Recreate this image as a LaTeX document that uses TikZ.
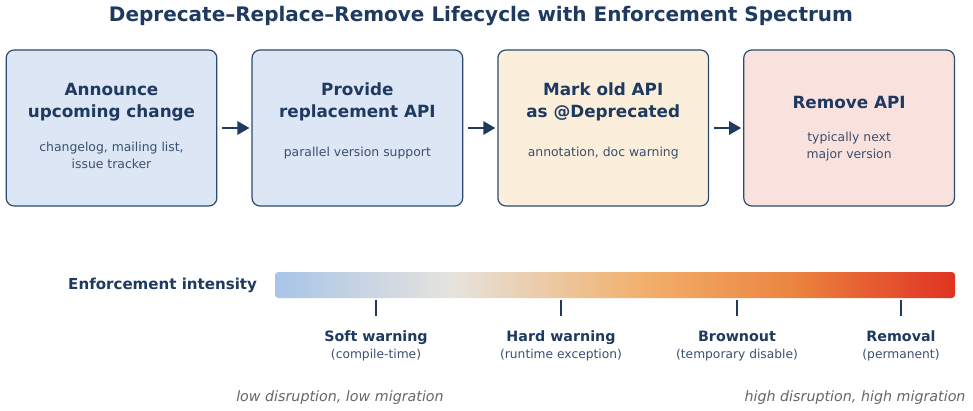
\documentclass[tikz,border=0pt]{standalone}
\usepackage{fontspec}
\setmainfont{DejaVu Sans}
\usepackage{tikz}
\usetikzlibrary{positioning,arrows.meta,calc}
\definecolor{navy}{HTML}{1F3A60}
\definecolor{boxline}{HTML}{2C4A6E}
\definecolor{subtext}{HTML}{3B4F6E}
\definecolor{fblue}{HTML}{DCE6F4}
\definecolor{fbeige}{HTML}{FBEEDA}
\definecolor{fpink}{HTML}{F9E2DE}
\definecolor{gblue}{HTML}{A8C5E8}
\definecolor{ggray}{HTML}{E6E3DE}
\definecolor{gorange}{HTML}{F2B06C}
\definecolor{gdeep}{HTML}{EB8540}
\definecolor{gred}{HTML}{E03222}
\definecolor{note}{HTML}{666666}
\pgfdeclarehorizontalshading{enforce}{100bp}{color(0bp)=(gblue); color(25bp)=(gblue); color(38bp)=(ggray); color(52bp)=(gorange); color(63bp)=(gdeep); color(75bp)=(gred); color(100bp)=(gred)}
\tikzstyle{stagebox}=[rectangle, draw=boxline, line width=0.9pt, rounded corners=6pt, minimum width=158pt, minimum height=117pt, inner sep=0pt]
\tikzstyle{stagetitle}=[align=center, text=navy, font=\bfseries\fontsize{12.6}{16.5}\selectfont]
\tikzstyle{stagenote}=[align=center, text=subtext, font=\fontsize{9.3}{12.75}\selectfont]
\tikzstyle{flowarrow}=[-{Triangle[length=9pt,width=10pt]}, navy, line width=1.5pt, shorten <=3.75pt, shorten >=1.5pt]
\tikzstyle{levelname}=[text=navy, text height=8pt, text depth=2.5pt, font=\bfseries\fontsize{10.7}{12}\selectfont]
\tikzstyle{levelnote}=[text=subtext, font=\fontsize{9.2}{11}\selectfont]
\tikzstyle{tickmark}=[navy, line width=1.5pt]
\tikzstyle{endnote}=[text=note, font=\itshape\fontsize{10.7}{12}\selectfont]

\begin{document}
\begin{tikzpicture}[x=0.75pt,y=-0.75pt]
			\useasboundingbox[fill=white] (0,0) rectangle (973,410);
			\node[text=navy, font=\bfseries\fontsize{15}{18}\selectfont] (title) at (481,16) {Deprecate--Replace--Remove Lifecycle with Enforcement Spectrum};

			% lifecycle stages
			\node[stagebox, fill=fblue] (announce) at (111.5,128) {};
			\node[stagebox, fill=fblue, right=25.5pt of announce] (provide) {};
			\node[stagebox, fill=fbeige, right=25.5pt of provide] (mark) {};
			\node[stagebox, fill=fpink, right=25.5pt of mark] (remove) {};

			\node[stagetitle] (announceT) at ($(announce.center)+(0,-26)$) {Announce\\upcoming change};
			\node[stagenote] (announceN) at ($(announce.center)+(0,27.5)$) {changelog, mailing list,\\issue tracker};
			\node[stagetitle] (provideT) at ($(provide.center)+(0,-26)$) {Provide\\replacement API};
			\node[stagenote] (provideN) at ($(provide.center)+(0,25)$) {parallel version support};
			\node[stagetitle] (markT) at ($(mark.center)+(0,-26)$) {Mark old API\\as @Deprecated};
			\node[stagenote] (markN) at ($(mark.center)+(0,25)$) {annotation, doc warning};
			\node[stagetitle] (removeT) at ($(remove.center)+(0,-26)$) {Remove API};
			\node[stagenote] (removeN) at ($(remove.center)+(0,18.5)$) {typically next\\major version};

			\draw[flowarrow] (announce) -- (provide);
			\draw[flowarrow] (provide) -- (mark);
			\draw[flowarrow] (mark) -- (remove);

			% enforcement spectrum
			\node[shading=enforce, rounded corners=2.5pt, minimum width=510pt, minimum height=19.5pt, inner sep=0pt] (spectrum) at (615,285) {};
			\node[left=9.75pt of spectrum, text=navy, font=\bfseries\fontsize{11.3}{13}\selectfont] (intensity) {Enforcement intensity};

			\node[levelname] (soft) at (376,338) {Soft warning};
			\node[levelnote] (softN) at (376,355) {(compile-time)};
			\node[levelname] (hard) at (561,338) {Hard warning};
			\node[levelnote] (hardN) at (561,355) {(runtime exception)};
			\node[levelname] (brown) at (737,338) {Brownout};
			\node[levelnote] (brownN) at (737,355) {(temporary disable)};
			\node[levelname] (removal) at (901,338) {Removal};
			\node[levelnote] (removalN) at (901,355) {(permanent)};

			\draw[tickmark] (soft |- spectrum.south) ++(0,2) -- ++(0,16);
			\draw[tickmark] (hard |- spectrum.south) ++(0,2) -- ++(0,16);
			\draw[tickmark] (brown |- spectrum.south) ++(0,2) -- ++(0,16);
			\draw[tickmark] (removal |- spectrum.south) ++(0,2) -- ++(0,16);

			\node[endnote] (lowend) at (340,398) {low disruption, low migration};
			\node[endnote] (highend) at (855,398) {high disruption, high migration};
\end{tikzpicture}
\end{document}
